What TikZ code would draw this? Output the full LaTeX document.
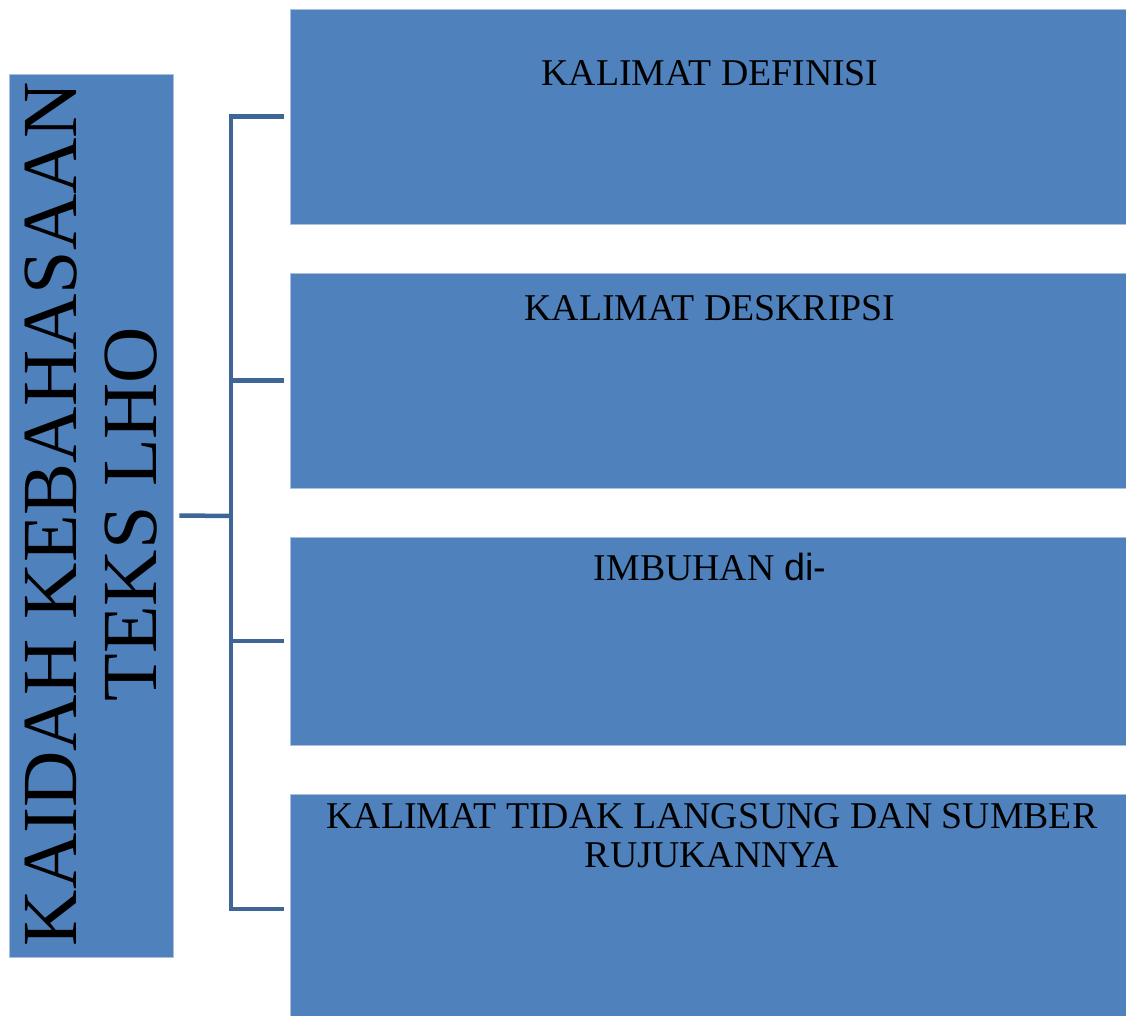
\documentclass[tikz,border=0pt]{standalone}
\usepackage{fontspec}
\setmainfont{Liberation Serif}
\newfontfamily\arialsans{Liberation Sans}
\definecolor{boxblue}{HTML}{4F81BD}
\definecolor{boxedge}{HTML}{A9C1DE}
\definecolor{linkblue}{HTML}{3D6596}
\begin{document}
\begin{tikzpicture}[x=1pt,y=-1pt,
  blockbox/.style={rectangle, fill=boxblue, draw=boxedge, line width=0.8pt, inner sep=0pt},
  itemtext/.style={anchor=base, font=\fontsize{37.8}{39}\selectfont, inner sep=0pt, align=center},
  link/.style={draw=linkblue, line width=4.5pt, line join=miter}]
\useasboundingbox (0,0) rectangle (1126,1016);
% boxes
\node[blockbox, minimum width=164pt, minimum height=883pt] (L) at (91,515.5) {};
\node[blockbox, minimum width=840pt, minimum height=215pt] (b1) at (710,116.5) {};
\node[blockbox, minimum width=840pt, minimum height=215pt] (b2) at (710,380.5) {};
\node[blockbox, minimum width=840pt, minimum height=208pt] (b3) at (710,641) {};
\node[blockbox, minimum width=840pt, minimum height=230pt] (b4) at (710,909) {};
\useasboundingbox (0,0) rectangle (1126,1016);
% texts
\node[rotate=90, align=center, font=\fontsize{78}{80}\selectfont, inner sep=0pt] (Lt) at (91,514) {KAIDAH KEBAHASAAN\\TEKS LHO};
\node[itemtext] (t1) at (710,86) {KALIMAT DEFINISI};
\node[itemtext] (t2) at (710,320) {KALIMAT DESKRIPSI};
\node[itemtext] (t3) at (710,580) {IMBUHAN {\arialsans di-}};
\node[itemtext] (t4a) at (712,828) {KALIMAT TIDAK LANGSUNG DAN SUMBER};
\node[itemtext] (t4b) at (712,867) {RUJUKANNYA};
% connectors
\coordinate (hub) at (231,516);
\draw[link] ([xshift=-6pt]b1.west) -- (b1.west -| hub) -- (b4.west -| hub) -- ([xshift=-6pt]b4.west);
\draw[link] ([xshift=-6pt]b2.west) -- (b2.west -| hub);
\draw[link] ([xshift=-6pt]b3.west) -- (b3.west -| hub);
\draw[link] ([xshift=6pt]L.east) -- (hub);
\end{tikzpicture}
\end{document}
